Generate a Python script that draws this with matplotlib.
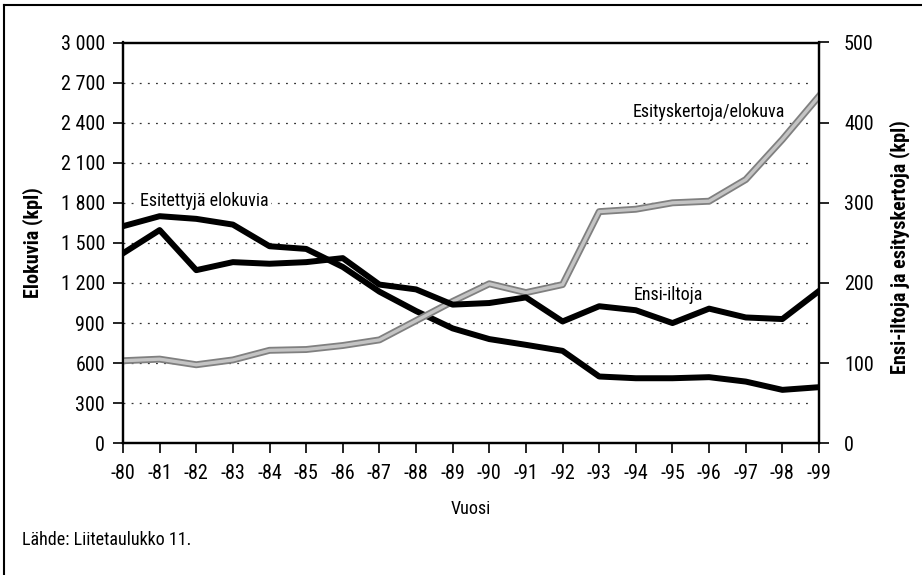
import matplotlib
matplotlib.use("Agg")
import matplotlib.pyplot as plt
from matplotlib import font_manager
from matplotlib.lines import Line2D

# ---- data ----
years = ["-80", "-81", "-82", "-83", "-84", "-85", "-86", "-87", "-88", "-89",
         "-90", "-91", "-92", "-93", "-94", "-95", "-96", "-97", "-98", "-99"]
films_shown = [1625, 1700, 1680, 1637, 1475, 1455, 1320, 1135, 990, 860,
               780, 737, 692, 500, 487, 487, 495, 462, 400, 420]
premieres = [237, 266, 216, 226, 224, 226, 231, 198, 192, 173,
             175, 182, 152, 171, 166, 150, 168, 157, 155, 190]
screenings_per_film = [103, 105, 98, 104, 116, 117, 122, 129, 153, 177,
                       199, 188, 198, 289, 292, 300, 302, 329, 379, 433]
left_ticks = [0, 300, 600, 900, 1200, 1500, 1800, 2100, 2400, 2700, 3000]
left_tick_labels = ["0", "300", "600", "900", "1 200", "1 500", "1 800",
                    "2 100", "2 400", "2 700", "3 000"]
right_ticks = [0, 100, 200, 300, 400, 500]

available = {f.name for f in font_manager.fontManager.ttflist}
prefs = ["Roboto Condensed", "Liberation Sans Narrow", "Archivo Narrow", "PT Sans Narrow",
         "Arial Narrow", "Open Sans Condensed", "Barlow Condensed", "Fira Sans Condensed",
         "IBM Plex Sans Condensed", "Asap Condensed", "Encode Sans Condensed",
         "Sofia Sans Condensed", "Barlow Semi Condensed", "Liberation Sans"]
fam = next((p for p in prefs if p in available), "DejaVu Sans")
plt.rcParams["font.family"] = [fam, "DejaVu Sans"]

FS = 13      # annotation text
TFS = 14.5   # tick labels
LFS = 14.5   # axis labels

fig = plt.figure(figsize=(9.22, 5.75), dpi=100)
ax = fig.add_axes([123 / 922, 1 - 443.3 / 575, (819 - 123) / 922, (443.3 - 42.5) / 575])
ax2 = ax.twinx()

x = list(range(len(years)))

ax.set_xlim(0, len(years) - 1)
ax.set_ylim(0, 3000)
ax2.set_ylim(0, 500)

ax.set_yticks(left_ticks)
ax.set_yticklabels(left_tick_labels)
ax2.set_yticks(right_ticks)
ax.set_xticks(x)
ax.set_xticklabels(years)

for a in (ax, ax2):
    for s in a.spines.values():
        s.set_linewidth(1.6)
        s.set_color("black")
ax.tick_params(axis="y", labelsize=TFS, length=7, width=1.2, direction="out", pad=6)
ax.tick_params(axis="x", labelsize=TFS, length=7, width=1.2, direction="out", pad=8)
ax2.tick_params(axis="y", labelsize=TFS, length=7, width=1.2, direction="out", pad=11)

# dotted grid lines
for v in left_ticks[1:-1]:
    ax.axhline(v, color="#333333", lw=0.9, dashes=(1.5, 5), xmin=0.0, xmax=0.99, zorder=0.5)

# films shown (left axis)
ax.plot(x, films_shown, color="black", lw=4.3, solid_joinstyle="round", zorder=3)

# premieres and screenings/film (right axis)
ax2.plot(x, screenings_per_film, color="#808080", lw=5.0, solid_joinstyle="round", zorder=2)
ax2.plot(x, screenings_per_film, color="#c4c4c4", lw=2.4, solid_joinstyle="round", zorder=2)
ax2.plot(x, premieres, color="black", lw=4.3, solid_joinstyle="round", zorder=3)

ax.set_ylabel("Elokuvia (kpl)", fontsize=LFS, fontweight="bold")
ax.yaxis.set_label_coords((43 - 123) / 696, 0.5)
ax2.set_ylabel("Ensi-iltoja ja esityskertoja (kpl)", fontsize=LFS, fontweight="bold")
ax2.yaxis.set_label_coords((889 - 123) / 696, 0.49)
ax.set_xlabel("Vuosi", fontsize=FS)
ax.xaxis.set_label_coords(0.5, -(500 - 443.3) / 400.8)

# series labels
ax.text(0.46, 1816, "Esitettyjä elokuvia", fontsize=FS, va="center", ha="left",
        bbox=dict(facecolor="white", edgecolor="none", pad=1.5), zorder=4)
ax2.text(16.0, 413, "Esityskertoja/elokuva", fontsize=FS, va="center", ha="center",
         bbox=dict(facecolor="white", edgecolor="none", pad=0.5), zorder=4)
ax2.text(14.88, 185, "Ensi-iltoja", fontsize=FS, va="center", ha="center", zorder=4)

fig.text(22 / 922, 1 - 540 / 575, "Lähde: Liitetaulukko 11.", fontsize=FS, va="center", ha="left")

# outer frame (top and left edges)
fig.add_artist(Line2D([4 / 922, 4 / 922], [0, 1 - 5 / 575], transform=fig.transFigure, color="black", lw=1.5))
fig.add_artist(Line2D([4 / 922, 1], [1 - 5 / 575, 1 - 5 / 575], transform=fig.transFigure, color="black", lw=1.5))

fig.savefig("out.png", dpi=100)
